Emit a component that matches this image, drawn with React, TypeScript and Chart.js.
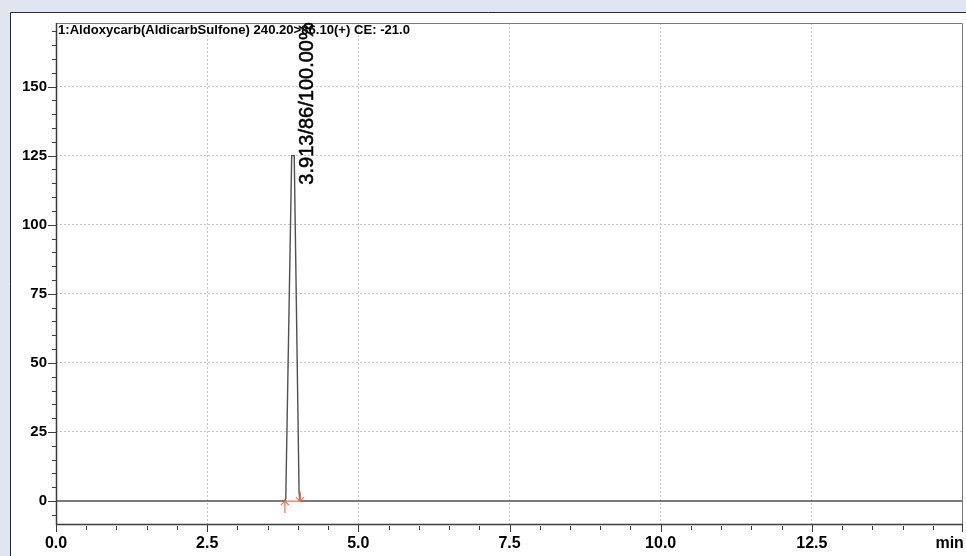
import { useEffect, useRef } from 'react';
import { Chart, registerables } from 'chart.js';

Chart.register(...registerables);

// Chromatogram trace: retention time (min) vs. intensity
const TIME_MIN = [0, 3.785, 3.8, 3.898, 3.913, 3.94, 4.02, 4.035, 15];
const INTENSITY = [0, 0, 1, 125, 125, 125, 3, 0, 0];

// Integrated peak: start/end marks, apex and its label values
const PEAK_START = 3.785;
const PEAK_END = 4.035;
const PEAK_RT = 3.913;
const PEAK_APEX = 125;
const PEAK_AREA = 86;
const PEAK_PERCENT = 100.0;

// Axis ticks
const X_MAJOR_TICKS = [0, 2.5, 5, 7.5, 10, 12.5, 15];
const Y_MAJOR_TICKS = [0, 25, 50, 75, 100, 125, 150];
const X_MINOR_STEP = 0.5;
const Y_MINOR_STEP = 5;
const X_UNIT_LABEL = 'min';

const TRACE_TITLE = '1:Aldoxycarb(AldicarbSulfone) 240.20>86.10(+) CE: -21.0';

const FONT = '"Liberation Sans", Arial, Helvetica, sans-serif';

const framePlugin = {
  id: 'frame',
  beforeDraw(chart: any) {
    const { ctx, width, height } = chart;
    ctx.save();
    ctx.fillStyle = '#e1e5f2';
    ctx.fillRect(0, 0, width, height);
    ctx.fillStyle = '#ffffff';
    ctx.fillRect(10, 12, width - 10, height - 12);
    ctx.strokeStyle = '#2b2b2b';
    ctx.lineWidth = 1;
    ctx.beginPath();
    ctx.moveTo(10.5, height);
    ctx.lineTo(10.5, 12.5);
    ctx.lineTo(width, 12.5);
    ctx.stroke();
    ctx.restore();
  },
};

const annotationPlugin = {
  id: 'chromAnnotations',
  afterDraw(chart: any) {
    const { ctx, chartArea } = chart;
    const xs = chart.scales.x;
    const ys = chart.scales.y;
    const { left, right, top, bottom } = chartArea;
    ctx.save();

    // plot box: grey top/right, dark axes
    ctx.lineWidth = 1;
    ctx.strokeStyle = '#7a7a7a';
    ctx.beginPath();
    ctx.moveTo(left, top + 0.5);
    ctx.lineTo(right - 0.5, top + 0.5);
    ctx.lineTo(right - 0.5, bottom);
    ctx.stroke();
    ctx.strokeStyle = '#3c3c3c';
    ctx.lineWidth = 1.5;
    ctx.beginPath();
    ctx.moveTo(left + 0.5, top);
    ctx.lineTo(left + 0.5, bottom + 0.5);
    ctx.lineTo(right, bottom + 0.5);
    ctx.stroke();

    // tick marks (major at labelled values, minor in between)
    ctx.lineWidth = 1;
    ctx.strokeStyle = '#3c3c3c';
    ctx.beginPath();
    const nx = Math.round((xs.max - xs.min) / X_MINOR_STEP);
    for (let i = 0; i <= nx; i++) {
      const v = xs.min + i * X_MINOR_STEP;
      const px = Math.min(Math.round(xs.getPixelForValue(v)) + 0.5, right - 0.5);
      const major = X_MAJOR_TICKS.some((t) => Math.abs(t - v) < 1e-6);
      ctx.moveTo(px, bottom + (major ? 1 : 2));
      ctx.lineTo(px, bottom + (major ? 8 : 6));
    }
    const yStart = Math.ceil(ys.min / Y_MINOR_STEP) * Y_MINOR_STEP;
    for (let v = yStart; v <= ys.max; v += Y_MINOR_STEP) {
      const py = Math.round(ys.getPixelForValue(v)) + 0.5;
      const major = Y_MAJOR_TICKS.some((t) => Math.abs(t - v) < 1e-6);
      ctx.moveTo(left - (major ? 8 : 4), py);
      ctx.lineTo(left, py);
    }
    ctx.stroke();

    // integration baseline with start/end arrows
    const sx = xs.getPixelForValue(PEAK_START);
    const ex = xs.getPixelForValue(PEAK_END);
    const by = ys.getPixelForValue(0);
    ctx.strokeStyle = '#f2704e';
    ctx.lineWidth = 1.2;
    ctx.beginPath();
    ctx.moveTo(sx, by);
    ctx.lineTo(ex, by);
    // up arrow at start
    ctx.moveTo(sx, by);
    ctx.lineTo(sx, by + 12);
    ctx.moveTo(sx - 4, by + 4);
    ctx.lineTo(sx, by);
    ctx.lineTo(sx + 4, by + 4);
    // down arrow at end
    ctx.moveTo(ex, by - 10);
    ctx.lineTo(ex, by);
    ctx.moveTo(ex - 4, by - 4);
    ctx.lineTo(ex, by);
    ctx.lineTo(ex + 4, by - 4);
    ctx.stroke();

    // peak label, rotated
    const ax = xs.getPixelForValue(PEAK_RT);
    const ay = ys.getPixelForValue(PEAK_APEX);
    const label = `${PEAK_RT.toFixed(3)}/${PEAK_AREA}/${PEAK_PERCENT.toFixed(2)}%`;
    ctx.save();
    ctx.translate(ax + 20, ay + 29);
    ctx.rotate(-Math.PI / 2);
    ctx.font = `20px ${FONT}`;
    ctx.fillStyle = '#000';
    ctx.strokeStyle = '#000';
    ctx.lineWidth = 0.5;
    ctx.textAlign = 'left';
    ctx.textBaseline = 'alphabetic';
    ctx.fillText(label, 0, 0);
    ctx.strokeText(label, 0, 0);
    ctx.restore();

    // trace title, condensed
    ctx.save();
    ctx.font = `bold 12px ${FONT}`;
    const w = ctx.measureText(TRACE_TITLE).width;
    ctx.translate(left + 2, top + 11);
    ctx.scale(352 / w, 1);
    ctx.fillStyle = '#000';
    ctx.textAlign = 'left';
    ctx.textBaseline = 'alphabetic';
    ctx.fillText(TRACE_TITLE, 0, 0);
    ctx.restore();

    ctx.restore();
  },
};

export default function App() {
  const canvasRef = useRef<HTMLCanvasElement>(null);

  useEffect(() => {
    const canvas = canvasRef.current;
    if (!canvas) return;
    const points = TIME_MIN.map((t, i) => ({ x: t, y: INTENSITY[i] }));
    const gridColor = (ctx: any) => {
      const v = ctx.tick ? ctx.tick.value : null;
      return v === null || v === 0 || v === 15 ? 'rgba(0,0,0,0)' : '#c6c6c6';
    };
    const chart = new Chart(canvas, {
      type: 'line',
      data: {
        datasets: [
          {
            data: points,
            borderColor: '#505050',
            borderWidth: 1.4,
            pointRadius: 0,
            tension: 0,
            fill: false,
          },
        ],
      },
      options: {
        responsive: false,
        animation: false,
        devicePixelRatio: 1,
        parsing: false as any,
        layout: { padding: { left: 0, top: 23, right: 3, bottom: 0 } },
        plugins: {
          legend: { display: false },
          tooltip: { enabled: false },
        },
        scales: {
          x: {
            type: 'linear',
            min: 0,
            max: 15,
            afterBuildTicks: (s: any) => {
              s.ticks = X_MAJOR_TICKS.map((v) => ({ value: v }));
            },
            afterFit: (s: any) => {
              s.height = 32;
              s.paddingLeft = 0;
              s.paddingRight = 0;
            },
            ticks: {
              autoSkip: false,
              maxRotation: 0,
              padding: 10,
              color: '#000',
              font: { family: FONT, size: 16, weight: 'bold' },
              callback: (v: any) =>
                Number(v) === 15 ? `${X_UNIT_LABEL}      ` : Number(v).toFixed(1),
            },
            grid: { drawTicks: false, color: gridColor, lineWidth: 1 },
            border: { display: false, dash: [2, 2] },
          },
          y: {
            type: 'linear',
            min: -8.3,
            max: 173,
            afterBuildTicks: (s: any) => {
              s.ticks = Y_MAJOR_TICKS.map((v) => ({ value: v }));
            },
            afterFit: (s: any) => {
              s.width = 56;
              s.paddingTop = 0;
              s.paddingBottom = 0;
            },
            ticks: {
              autoSkip: false,
              padding: 9,
              color: '#000',
              font: { family: FONT, size: 15, weight: 'bold' },
              callback: (v: any) => String(v),
            },
            grid: { drawTicks: false, color: gridColor, lineWidth: 1 },
            border: { display: false, dash: [2, 2] },
          },
        },
      } as any,
      plugins: [framePlugin, annotationPlugin],
    });
    return () => chart.destroy();
  }, []);

  return (
    <div style={{ position: 'fixed', left: 0, top: 0, width: 966, height: 556 }}>
      <canvas ref={canvasRef} width={966} height={556} style={{ display: 'block' }} />
    </div>
  );
}
